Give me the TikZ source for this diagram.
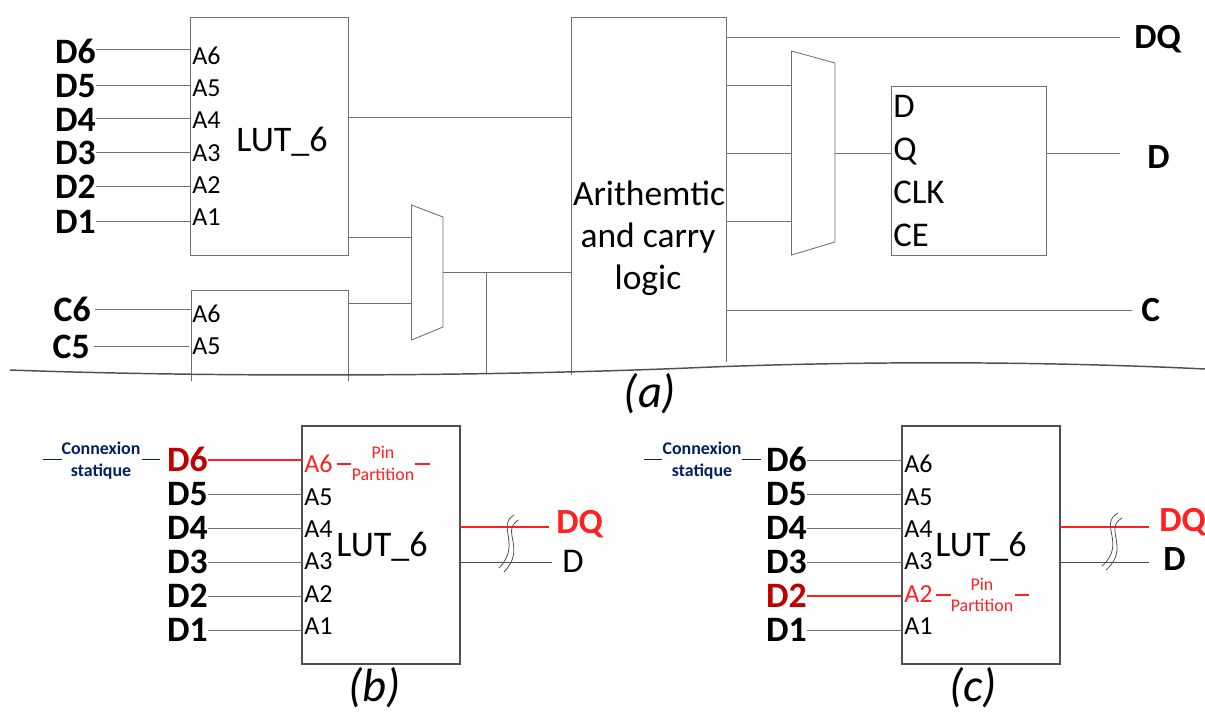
\documentclass[tikz,border=0pt]{standalone}
\usetikzlibrary{calc}
\usepackage{fontspec}
\setmainfont{Carlito}
\definecolor{wire}{HTML}{707070}
\definecolor{edge}{HTML}{505050}
\definecolor{navy}{HTML}{002060}
\definecolor{dred}{HTML}{C00000}
\definecolor{lred}{HTML}{FF2020}
\tikzset{
  x=.75pt,y=-.75pt,
  wireline/.style={draw=wire,line width=.65pt},
  thinbox/.style={draw=wire,line width=.65pt},
  lutbox/.style={draw=edge,line width=1.1pt,rectangle,inner sep=0pt,outer sep=0pt,minimum width=118.5pt,minimum height=178.5pt},
  redline/.style={draw=lred,line width=1pt},
  pinlab/.style={inner sep=0pt,anchor=west,text height=12.4pt,text depth=0pt,font=\fontsize{19.5}{20}\selectfont},
  biglab/.style={inner sep=0pt,text height=16.7pt,text depth=0pt,font=\fontsize{26}{28}\selectfont},
  lutlab/.style={inner sep=0pt,text height=16.7pt,text depth=0pt,font=\fontsize{27}{29}\selectfont},
  sigE/.style={inner sep=0pt,anchor=east,text height=16.7pt,text depth=0pt,font=\fontsize{26.8}{28}\selectfont\bfseries},
  sigW/.style={inner sep=0pt,anchor=west,text height=16.7pt,text depth=0pt,font=\fontsize{26.5}{28}\selectfont\bfseries},
  caplab/.style={inner sep=0pt,text height=20pt,text depth=0pt,font=\fontsize{35}{37}\selectfont\itshape},
  conn/.style={inner sep=0pt,text height=8.7pt,text depth=0pt,text=navy,font=\fontsize{13.4}{15}\selectfont\bfseries},
  pinpart/.style={inner sep=0pt,text height=8.7pt,text depth=0pt,text=lred,font=\fontsize{13.4}{15}\selectfont},
  squiggle/.style={draw=edge,line width=.6pt},
  breakline/.style={draw=edge,line width=1.1pt}
}
\begin{document}
\begin{tikzpicture}
\useasboundingbox (0,0) rectangle (1205,711);
% ---------- (a) ----------
\node[draw=wire,line width=.65pt,rectangle,inner sep=0pt,outer sep=0pt,minimum width=118.5pt,minimum height=178.5pt] (lutA) at (269,136) {};
\node[lutlab] (lutAt) at (282,140) {LUT\_6};
\foreach \n/\yl/\yp/\ya in {6/52/49/56,5/86/85/88,4/120/118/120,3/153/152/153,2/187/186/185,1/222/221/217}{
  \node[sigE] (dA\n) at (96,\yl) {D\n};
  \node[pinlab] (aA\n) at (192,\ya) {A\n};
  \coordinate (pA\n) at (190,\yp);
  \draw[wireline] (pA\n -| dA\n.east) -- (pA\n);
}
% second LUT (open at the bottom)
\coordinate (l2a) at (191,381); \coordinate (l2b) at (191,290);
\coordinate (l2c) at (348,290); \coordinate (l2d) at (348,381);
\draw[thinbox] (l2a) -- (l2b) -- (l2c) -- (l2d);
\node[sigE] (c6) at (91,310) {C6};
\node[sigE] (c5) at (90,347) {C5};
\node[pinlab] (a2A6) at (192,314) {A6};
\node[pinlab] (a2A5) at (192,346) {A5};
\coordinate (p2A6) at (191,309); \coordinate (p2A5) at (189,346);
\draw[wireline] ($(c6.east)+(4,-1)$) -- (p2A6);
\draw[wireline] ($(c5.east)+(4,-1)$) -- (p2A5);
% mux 1
\coordinate (m1a) at (411.5,205); \coordinate (m1b) at (443,217);
\coordinate (m1c) at (443,327); \coordinate (m1d) at (411.5,340);
\draw[thinbox] (m1a) -- (m1b) -- (m1c) -- (m1d) -- cycle;
% arithmetic block (open at the bottom)
\coordinate (ara) at (571,375); \coordinate (arb) at (571,17);
\coordinate (arc) at (726,17); \coordinate (ard) at (726,362);
\draw[thinbox] (ara) -- (arb) -- (arc) -- (ard);
\node[biglab,font=\fontsize{26.6}{28}\selectfont] (ar1) at (649,194) {Arithemtic};
\node[biglab,font=\fontsize{26.6}{28}\selectfont] (ar2) at (648,236) {and carry};
\node[biglab,font=\fontsize{26.6}{28}\selectfont] (ar3) at (648,278) {logic};
% LUT -> arith, LUT -> mux
\coordinate (q1) at (571,117); \coordinate (q2) at (411.5,237); \coordinate (q3) at (411.5,303);
\draw[wireline] (q1 -| lutA.east) -- (q1);
\draw[wireline] (q2 -| lutA.east) -- (q2);
\draw[wireline] (q3 -| l2c) -- (q3);
\coordinate (m1o) at (443,272); \coordinate (ar1i) at (571,272);
\coordinate (tap) at (486,272); \coordinate (tapb) at (486,374);
\draw[wireline] (m1o) -- (ar1i);
\draw[wireline] (tap) -- (tapb);
% mux 2
\coordinate (m2a) at (791.5,51); \coordinate (m2b) at (835,63);
\coordinate (m2c) at (835,242); \coordinate (m2d) at (791.5,255);
\draw[thinbox] (m2a) -- (m2b) -- (m2c) -- (m2d) -- cycle;
\foreach \k/\yy in {1/85,2/153,3/221}{
  \coordinate (mi\k) at (727,\yy);
  \coordinate (mj\k) at (791.5,\yy);
  \draw[wireline] (mi\k) -- (mj\k);
}
% flip-flop
\node[draw=wire,line width=.65pt,rectangle,inner sep=0pt,outer sep=0pt,minimum width=116.25pt,minimum height=126.75pt] (ff) at (968.5,170.5) {};
\node[biglab,anchor=west] (ffD) at (893,106) {D};
\node[biglab,anchor=west] (ffQ) at (893,149) {Q};
\node[biglab,anchor=west] (ffC) at (893,192) {CLK};
\node[biglab,anchor=west] (ffE) at (893,235) {CE};
\coordinate (m2o) at (835,153); \coordinate (ffi) at (891,153);
\draw[wireline] (m2o) -- (ffi);
% outputs
\node[sigW] (oDQ) at (1134,37) {DQ};
\node[sigW] (oD) at (1147,157) {D};
\node[sigW] (oC) at (1141,310) {C};
\coordinate (oq) at (727,37); \coordinate (oqe) at (1120,37);
\coordinate (oce) at (727,310); \coordinate (ocf) at (1132,310);
\coordinate (ode) at (1120,153); \coordinate (odf) at (1046,153);
\draw[wireline] (oq) -- (oqe);
\draw[wireline] (odf) -- (ode);
\draw[wireline] (oce) -- (ocf);
% break line
\coordinate (ba) at (10,370); \coordinate (bb) at (700,367.5); \coordinate (bc) at (1205,369);
\draw[breakline] (ba) .. controls (200,377) and (480,377) .. (bb) .. controls (830,362) and (1020,360) .. (bc);
\node[caplab] (capA) at (650,394) {(a)};
% ---------- (b) ----------
\node[lutbox] (lutB) at (381,545) {};
\node[lutlab] (lutBt) at (382,545) {LUT\_6};
\foreach \n/\yl/\yp/\ya in {6/460/460/464,5/494/494/497,4/528/528/529,3/562/562/561,2/596/596/594,1/630/630/626}{
  \ifnum\n=6
    \node[sigE,text=dred] (dB\n) at (208,\yl) {D\n};
    \node[pinlab,text=lred] (aB\n) at (304,\ya) {A\n};
    \coordinate (pB\n) at (302,\yp);
    \draw[redline] (pB\n -| dB\n.east) -- (pB\n);
  \else
    \node[sigE] (dB\n) at (208,\yl) {D\n};
    \node[pinlab] (aB\n) at (304,\ya) {A\n};
    \coordinate (pB\n) at (302,\yp);
    \draw[wireline] (pB\n -| dB\n.east) -- (pB\n);
  \fi
}
\node[conn] (cb1) at (101,449) {Connexion};
\node[conn] (cb2) at (101,471) {statique};
\coordinate (cb3) at (43,459); \coordinate (cb4) at (62,459);
\coordinate (cb5) at (142,459); \coordinate (cb6) at (160,459);
\draw[navy,line width=.65pt] (cb3) -- (cb4) (cb5) -- (cb6);
\node[pinpart] (pb1) at (383,453) {Pin};
\node[pinpart] (pb2) at (383,475) {Partition};
\coordinate (pb3) at (337,464); \coordinate (pb4) at (351,464);
\coordinate (pb5) at (415,464); \coordinate (pb6) at (430,464);
\draw[redline] (pb3) -- (pb4) (pb5) -- (pb6);
\coordinate (obq) at (549,527); \coordinate (obd) at (552,562);
\draw[redline] (obq -| lutB.east) -- (obq);
\draw[wireline,draw=edge] (obd -| lutB.east) -- (obd);
\node[sigW,text=lred] (bDQ) at (556,522) {DQ};
\node[biglab,anchor=west] (bD) at (562,561) {D};
\coordinate (s1a) at (514,515); \coordinate (s1b) at (499,568);
\coordinate (s2a) at (518.5,520); \coordinate (s2b) at (504,572);
\draw[squiggle] (s1a) .. controls (496,526) and (522,544) .. (s1b);
\draw[squiggle] (s2a) .. controls (500,531) and (527,548) .. (s2b);
\node[caplab] (capB) at (375,688) {(b)};
% ---------- (c) ----------
\node[lutbox] (lutC) at (981,545) {};
\node[lutlab] (lutCt) at (981,545) {LUT\_6};
\foreach \n/\yl/\yp/\ya in {6/460/460/464,5/494/494/497,4/528/528/529,3/562/562/561,2/596/596/594,1/630/630/626}{
  \ifnum\n=2
    \node[sigE,text=dred] (dC\n) at (807,\yl) {D\n};
    \node[pinlab,text=lred] (aC\n) at (904,\ya) {A\n};
    \coordinate (pC\n) at (902,\yp);
    \draw[redline] (pC\n -| dC\n.east) -- (pC\n);
  \else
    \node[sigE] (dC\n) at (807,\yl) {D\n};
    \node[pinlab] (aC\n) at (904,\ya) {A\n};
    \coordinate (pC\n) at (902,\yp);
    \draw[wireline] (pC\n -| dC\n.east) -- (pC\n);
  \fi
}
\node[conn] (cc1) at (702,449) {Connexion};
\node[conn] (cc2) at (702,471) {statique};
\coordinate (cc3) at (644,459); \coordinate (cc4) at (662,459);
\coordinate (cc5) at (742,459); \coordinate (cc6) at (761,459);
\draw[navy,line width=.65pt] (cc3) -- (cc4) (cc5) -- (cc6);
\node[pinpart] (pc1) at (982,585) {Pin};
\node[pinpart] (pc2) at (982,606) {Partition};
\coordinate (pc3) at (936,595); \coordinate (pc4) at (951,595);
\coordinate (pc5) at (1015,595); \coordinate (pc6) at (1029,595);
\draw[redline] (pc3) -- (pc4) (pc5) -- (pc6);
\coordinate (ocq) at (1149,527); \coordinate (ocd) at (1149,562);
\draw[redline] (ocq -| lutC.east) -- (ocq);
\draw[wireline,draw=edge] (ocd -| lutC.east) -- (ocd);
\node[sigW,text=lred] (cDQ) at (1159,520) {DQ};
\node[sigW] (cD) at (1163,559) {D};
\coordinate (s3a) at (1118,513); \coordinate (s3b) at (1102,566);
\coordinate (s4a) at (1122,518); \coordinate (s4b) at (1106,570);
\draw[squiggle] (s3a) .. controls (1098,524) and (1127,544) .. (s3b);
\draw[squiggle] (s4a) .. controls (1103,529) and (1131,548) .. (s4b);
\node[caplab] (capC) at (973,688) {(c)};
\end{tikzpicture}
\end{document}
